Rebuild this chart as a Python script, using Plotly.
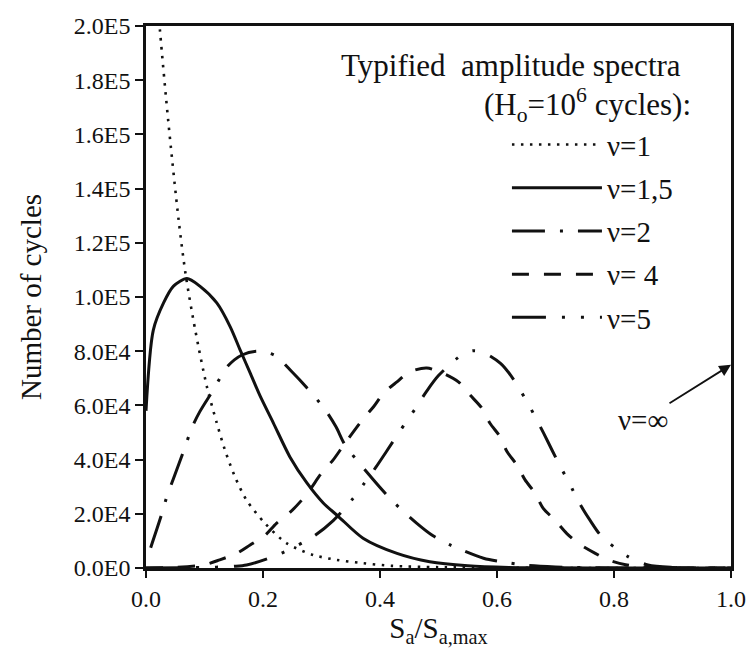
import plotly.graph_objects as go

# ---------------- data ----------------
s_nu1 = [0.015, 0.024, 0.038, 0.056, 0.068, 0.084, 0.104, 0.121, 0.135, 0.152, 0.172,
         0.203, 0.24, 0.286, 0.326, 0.37, 0.42, 0.5, 0.6, 0.7, 0.8, 0.9, 1.0]
v_nu1 = [222000, 198000, 165000, 128000, 108000, 88000, 67000, 53500, 43500, 33700, 25000,
         16600, 9200, 4800, 3000, 1800, 800, 300, 100, 0, 0, 0, 0]

s_nu15 = [0.0, 0.0125, 0.03, 0.047, 0.07, 0.092, 0.121, 0.144, 0.161, 0.178, 0.195, 0.218,
          0.246, 0.275, 0.303, 0.329, 0.371, 0.429, 0.485, 0.55, 0.62, 0.7, 0.8, 1.0]
v_nu15 = [58000, 87800, 97800, 104000, 106800, 104000, 97800, 89000, 80400, 72000, 63500, 53400,
          41000, 31400, 24000, 19000, 11000, 5400, 2300, 800, 200, 50, 0, 0]

s_nu2 = [0.008, 0.027, 0.036, 0.047, 0.067, 0.078, 0.092, 0.115, 0.139, 0.164, 0.19, 0.22,
         0.249, 0.275, 0.306, 0.325, 0.34, 0.377, 0.42, 0.463, 0.49, 0.52, 0.577, 0.608,
         0.65, 0.7, 0.8, 1.0]
v_nu2 = [7500, 20000, 26600, 33000, 44800, 51600, 57700, 65700, 74300, 78600, 80000, 78500,
         72500, 66500, 58500, 52000, 45500, 35500, 25000, 16500, 12000, 8500, 3600, 2300,
         1000, 400, 0, 0]

s_nu4 = [0.0, 0.05, 0.1, 0.126, 0.155, 0.178, 0.203, 0.223, 0.246, 0.266, 0.28, 0.3, 0.32,
         0.34, 0.371, 0.389, 0.406, 0.429, 0.451, 0.48, 0.508, 0.534, 0.554, 0.574, 0.588,
         0.605, 0.617, 0.634, 0.648, 0.665, 0.679, 0.699, 0.719, 0.739, 0.768, 0.79, 0.82,
         0.86, 0.9, 1.0]
v_nu4 = [0, 200, 1200, 3000, 5400, 8500, 12000, 16500, 20500, 25000, 28800, 35000, 39900,
         46000, 55000, 59500, 64500, 68700, 72400, 73800, 71800, 68700, 63800, 59000, 53400,
         48500, 43000, 38000, 32500, 27600, 22000, 17700, 12800, 9100, 5400, 3000, 1200,
         300, 0, 0]

s_nu5 = [0.0, 0.1, 0.15, 0.172, 0.229, 0.287, 0.32, 0.354, 0.374, 0.393, 0.411, 0.443, 0.461,
         0.479, 0.5, 0.542, 0.56, 0.578, 0.606, 0.627, 0.656, 0.672, 0.687, 0.701, 0.728,
         0.742, 0.76, 0.779, 0.824, 0.858, 0.9, 1.0]
v_nu5 = [0, 200, 600, 1100, 5200, 11800, 17500, 25700, 31500, 37200, 43000, 53400, 59000,
         65000, 71000, 79000, 80200, 79400, 75500, 70000, 59500, 53000, 46600, 40500, 29400,
         23500, 17300, 11600, 4200, 1100, 200, 0]

series_names = ["ν=1", "ν=1,5", "ν=2", "ν= 4", "ν=5"]

x_tick_vals = [0.0, 0.2, 0.4, 0.6, 0.8, 1.0]
x_tick_text = ["0.0", "0.2", "0.4", "0.6", "0.8", "1.0"]
y_tick_vals = [0, 20000, 40000, 60000, 80000, 100000, 120000, 140000, 160000, 180000, 200000]
y_tick_text = ["0.0E0", "2.0E4", "4.0E4", "6.0E4", "8.0E4", "1.0E5", "1.2E5", "1.4E5",
               "1.6E5", "1.8E5", "2.0E5"]

nu_inf_arrow_y = 75000

# ---------------- figure ----------------
FONT = "Liberation Serif, Times New Roman, Times, serif"
INK = "#111111"

styles = [
    dict(width=2.6, dash="2.5px,6.5px"),
    dict(width=3, dash="solid"),
    dict(width=3, dash="33px,15px,3px,15px"),
    dict(width=3, dash="17px,15px"),
    dict(width=3, dash="34px,16px,3px,16px,3px,16px"),
]
xs = [s_nu1, s_nu15, s_nu2, s_nu4, s_nu5]
ys = [v_nu1, v_nu15, v_nu2, v_nu4, v_nu5]

fig = go.Figure()
for i, (name, x, y, st) in enumerate(zip(series_names, xs, ys, styles)):
    fig.add_trace(go.Scatter(
        x=x, y=y, name=name, mode="lines", legendgroup=f"g{i}",
        line=dict(color=INK, width=st["width"], dash=st["dash"], shape="spline", smoothing=0.8),
    ))

fig.update_layout(
    width=748, height=648,
    margin=dict(l=146, r=17, t=26, b=80),
    paper_bgcolor="white", plot_bgcolor="white",
    font=dict(family=FONT, color=INK, size=24),
    showlegend=True,
    legend=dict(
        x=0.617, y=0.828, xanchor="left", yanchor="top",
        itemwidth=90, font=dict(family=FONT, size=29, color=INK),
        bgcolor="rgba(0,0,0,0)", borderwidth=0, tracegroupgap=2.5,
    ),
    xaxis=dict(
        range=[0, 1], tickvals=x_tick_vals, ticktext=x_tick_text,
        showgrid=False, zeroline=False, automargin=False,
        showline=True, linecolor=INK, linewidth=2.5, mirror=True,
        ticks="outside", ticklen=7, tickwidth=2, tickcolor=INK,
        tickfont=dict(family=FONT, size=24),
        title=dict(text="S<sub>a</sub>/S<sub>a,max</sub>", font=dict(family=FONT, size=29), standoff=8),
    ),
    yaxis=dict(
        range=[0, 200000], tickvals=y_tick_vals, ticktext=y_tick_text,
        showgrid=False, zeroline=False, automargin=False,
        showline=True, linecolor=INK, linewidth=2.5, mirror=True,
        ticks="outside", ticklen=8, tickwidth=2, tickcolor=INK,
        tickfont=dict(family=FONT, size=24),
        title=dict(text="Number of cycles", font=dict(family=FONT, size=29), standoff=24),
    ),
)

fig.add_annotation(
    xref="paper", yref="paper", x=0.918, y=0.928, xanchor="right", yanchor="middle",
    text="Typified  amplitude spectra", showarrow=False, font=dict(family=FONT, size=31),
)
fig.add_annotation(
    xref="paper", yref="paper", x=0.935, y=0.854, xanchor="right", yanchor="middle",
    text="(H<sub>o</sub>=10<sup>6</sup> cycles):", showarrow=False, font=dict(family=FONT, size=31),
)
fig.add_annotation(
    xref="x", yref="y", x=1.0, y=nu_inf_arrow_y, text="ν=∞",
    showarrow=True, arrowhead=2, arrowsize=1.3, arrowwidth=1.8, arrowcolor=INK,
    ax=-88, ay=55, font=dict(family=FONT, size=29),
)

fig.write_html("out.html")
